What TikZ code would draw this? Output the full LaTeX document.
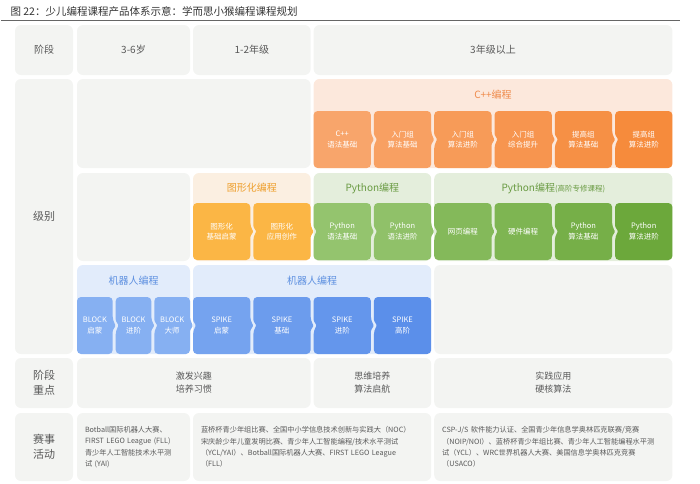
\documentclass[tikz,border=0pt]{standalone}
\usepackage{fontspec}
\setmainfont{Noto Sans CJK SC}
\definecolor{boxgray}{HTML}{F3F4F2}
\definecolor{txtgray}{HTML}{595959}
\definecolor{cppBand}{HTML}{FCE8DC}
\definecolor{cppTitle}{HTML}{EF8A4A}
\definecolor{cppL}{HTML}{F8A56B}
\definecolor{cppR}{HTML}{F68B3C}
\definecolor{gfxBand}{HTML}{FBEFE1}
\definecolor{gfxTitle}{HTML}{EE9E2A}
\definecolor{gfxBox}{HTML}{FBB645}
\definecolor{pyBand}{HTML}{E4EEDC}
\definecolor{pyTitle}{HTML}{6A9B43}
\definecolor{pyL}{HTML}{94C46E}
\definecolor{pyR}{HTML}{6CA83B}
\definecolor{robBand}{HTML}{E2ECFB}
\definecolor{robTitle}{HTML}{5C8FE0}
\definecolor{robL}{HTML}{86B0F2}
\definecolor{robR}{HTML}{5B8FEA}
\begin{document}
\begin{tikzpicture}[x=1pt,y=-1pt,
    graybox/.style={fill=boxgray,rounded corners=6pt,inner sep=0pt,text=txtgray,align=center},
    sidelabel/.style={graybox,font=\fontsize{11}{15}\selectfont},
    headlabel/.style={graybox,font=\fontsize{10}{12}\selectfont},
    focuslabel/.style={graybox,font=\fontsize{9}{13}\selectfont},
    complabel/.style={graybox,align=left,inner xsep=8pt,font=\fontsize{7.2}{11.4}\selectfont},
    bandtitle/.style={font=\fontsize{10}{12}\selectfont},
    chevtext/.style={text=white,align=center,font=\fontsize{7.5}{10.5}\selectfont}]
    \useasboundingbox (0,0) rectangle (700,483);

    \node[anchor=west,text=black!80,font=\fontsize{10.5}{12}\selectfont] (title) at (7,11.5) {图 22：少儿编程课程产品体系示意：学而思小猴编程课程规划};
    \draw[black!60,line width=0.8pt] (1,20.5) -- (680,20.5);

    \node[headlabel,minimum width=58pt,minimum height=50pt] (hdStage) at (44,50) {阶段};
    \node[headlabel,minimum width=113pt,minimum height=50pt] (hdAge) at (133.5,50) {3-6岁};
    \node[headlabel,minimum width=117.6pt,minimum height=50pt] (hdLow) at (251.8,50) {1-2年级};
    \node[headlabel,minimum width=358.8pt,minimum height=50pt] (hdHigh) at (493,50) {3年级以上};

    \node[sidelabel,minimum width=58pt,minimum height=275pt] (lvStage) at (44,216.5) {级别};
    \node[graybox,minimum width=233.6pt,minimum height=89pt] (lvEmptyA) at (193.8,123.5) {};
    \node[graybox,minimum width=113pt,minimum height=88pt] (lvEmptyB) at (133.5,217) {};
    \node[graybox,minimum width=238.2pt,minimum height=89pt] (lvEmptyC) at (553.3,309.5) {};

    \fill[cppBand,rounded corners=6pt] (313.6,79) rectangle (672.4,168);
    \fill[gfxBand,rounded corners=6pt] (193,173) rectangle (310.6,261);
    \fill[pyBand,rounded corners=6pt] (313.6,173) rectangle (431.2,261);
    \fill[pyBand,rounded corners=6pt] (434.2,173) rectangle (672.4,261);
    \fill[robBand,rounded corners=6pt] (77,265) rectangle (190,354);
    \fill[robBand,rounded corners=6pt] (193,265) rectangle (431.2,354);

    \node[bandtitle,text=cppTitle] (cppHead) at (493,95) {C++编程};
    \node[bandtitle,text=gfxTitle] (gfxHead) at (251.8,188) {图形化编程};
    \node[bandtitle,text=pyTitle] (pyHead) at (372.4,188) {Python编程};
    \node[bandtitle,text=pyTitle] (advHead) at (553.3,188) {Python编程{\fontsize{7.5}{9}\selectfont(高阶专修课程)}};
    \node[bandtitle,text=robTitle] (robHeadA) at (133.5,281) {机器人编程};
    \node[bandtitle,text=robTitle] (robHeadB) at (312.1,281) {机器人编程};

    \foreach \xa/\xb/\yt/\fc/\nm/\txt/\nl/\pr in {
        313.6/370.9/111/cppR!0!cppL/cpp1/{C++\\语法基础}/0/1,
        373.9/431.2/111/cppR!20!cppL/cpp2/{入门组\\算法基础}/1/1,
        434.2/491.5/111/cppR!40!cppL/cpp3/{入门组\\算法进阶}/1/1,
        494.5/551.8/111/cppR!60!cppL/cpp4/{入门组\\综合提升}/1/1,
        554.8/612.1/111/cppR!80!cppL/cpp5/{提高组\\算法基础}/1/1,
        615.1/672.4/111/cppR!100!cppL/cpp6/{提高组\\算法进阶}/1/0,
        193/250.3/203/gfxBox/gfx1/{图形化\\基础启蒙}/0/1,
        253.3/310.6/203/gfxBox/gfx2/{图形化\\应用创作}/1/1,
        313.6/370.9/203/pyR!0!pyL/py1/{Python\\语法基础}/1/1,
        373.9/431.2/203/pyR!10!pyL/py2/{Python\\语法进阶}/1/1,
        434.2/491.5/203/pyR!40!pyL/adv1/{网页编程}/1/1,
        494.5/551.8/203/pyR!55!pyL/adv2/{硬件编程}/1/1,
        554.8/612.1/203/pyR!75!pyL/adv3/{Python\\算法基础}/1/1,
        615.1/672.4/203/pyR!100!pyL/adv4/{Python\\算法进阶}/1/0,
        77/112.7/297/robL/blk1/{BLOCK\\启蒙}/0/1,
        115.7/151.3/297/robL/blk2/{BLOCK\\进阶}/1/1,
        154.3/190/297/robL/blk3/{BLOCK\\大师}/1/1,
        193/250.3/297/robR!40!robL/spk1/{SPIKE\\启蒙}/1/1,
        253.3/310.6/297/robR!60!robL/spk2/{SPIKE\\基础}/1/1,
        313.6/370.9/297/robR!80!robL/spk3/{SPIKE\\进阶}/1/1,
        373.9/431.2/297/robR!100!robL/spk4/{SPIKE\\高阶}/1/0}
    {
        \pgfmathsetmacro\ym{\yt+28.5}
        \pgfmathsetmacro\yb{\yt+57}
        \pgfmathsetmacro\xm{(\xa+\xb)/2}
        \fill[\fc,rounded corners=4pt] (\xm,\yt) -- (\xb,\yt) -- (\xb,\ym-5) [rounded corners=1pt] -- (\xb+3*\pr,\ym) -- (\xb,\ym+5) [rounded corners=4pt] -- (\xb,\yb) -- (\xa,\yb) -- (\xa,\ym+5) [rounded corners=1pt] -- (\xa+3*\nl,\ym) -- (\xa,\ym-5) [rounded corners=4pt] -- (\xa,\yt) -- cycle;
        \node[chevtext] (\nm) at (\xm,\ym) {\txt};
    }

    \node[sidelabel,minimum width=58pt,minimum height=50pt] (fcStage) at (44,383) {阶段\\重点};
    \node[focuslabel,minimum width=233.6pt,minimum height=50pt] (fcA) at (193.8,383) {激发兴趣\\培养习惯};
    \node[focuslabel,minimum width=117.6pt,minimum height=50pt] (fcB) at (372.4,383) {思维培养\\算法启航};
    \node[focuslabel,minimum width=238.2pt,minimum height=50pt] (fcC) at (553.3,383) {实践应用\\硬核算法};

    \node[sidelabel,minimum width=58pt,minimum height=68pt] (cpStage) at (44,447) {赛事\\活动};
    \node[complabel,text width=97pt,minimum height=68pt] (cpA) at (133.5,447) {Botball国际机器人大赛、\\FIRST LEGO League (FLL)\\青少年人工智能技术水平测\\试 (YAI)};
    \node[complabel,text width=222.2pt,minimum height=68pt] (cpB) at (312.1,447) {蓝桥杯青少年组比赛、全国中小学信息技术创新与实践大（NOC）\\宋庆龄少年儿童发明比赛、青少年人工智能编程/技术水平测试\\（YCL/YAI）、Botball国际机器人大赛、FIRST LEGO League\\（FLL）};
    \node[complabel,text width=222.2pt,minimum height=68pt] (cpC) at (553.3,447) {CSP-J/S 软件能力认证、全国青少年信息学奥林匹克联赛/竞赛\\（NOIP/NOI）、蓝桥杯青少年组比赛、青少年人工智能编程水平测\\试（YCL）、WRC世界机器人大赛、美国信息学奥林匹克竞赛\\（USACO）};
\end{tikzpicture}
\end{document}
